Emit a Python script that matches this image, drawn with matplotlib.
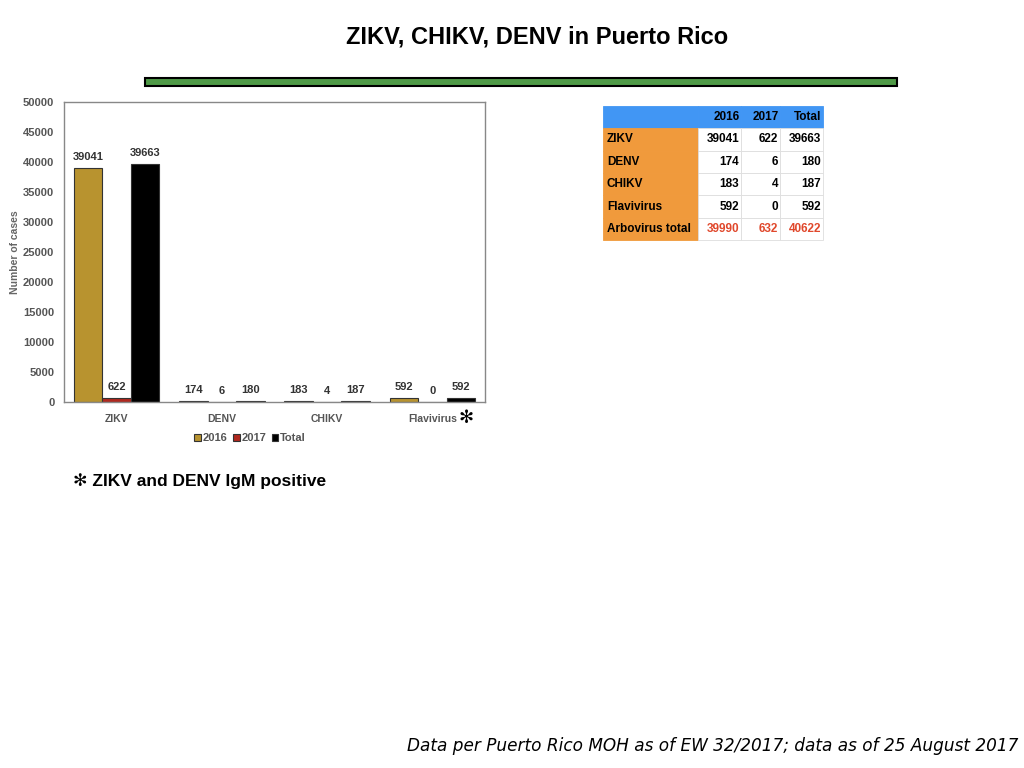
import matplotlib.pyplot as plt
from matplotlib.patches import Rectangle
import numpy as np

plt.rcParams['font.family'] = ['Liberation Sans', 'DejaVu Sans']

viruses = ['ZIKV', 'DENV', 'CHIKV', 'Flavivirus']
cases_2016 = [39041, 174, 183, 592]
cases_2017 = [622, 6, 4, 0]
cases_total = [39663, 180, 187, 592]

table_cols = ['2016', '2017', 'Total']
table_rows = ['ZIKV', 'DENV', 'CHIKV', 'Flavivirus', 'Arbovirus total']
table_vals = [
    ['39041', '622', '39663'],
    ['174', '6', '180'],
    ['183', '4', '187'],
    ['592', '0', '592'],
    ['39990', '632', '40622'],
]

series = [('2016', cases_2016, '#b8932f'),
          ('2017', cases_2017, '#b0281e'),
          ('Total', cases_total, '#000000')]

fig = plt.figure(figsize=(10.24, 7.68), dpi=100)

fig.text(0.524, 1 - 37 / 768, 'ZIKV, CHIKV, DENV in Puerto Rico', ha='center', va='center',
         fontsize=17, fontweight='bold')
fig.patches.append(Rectangle((145 / 1024, 1 - 86 / 768), 752 / 1024, 8 / 768,
                             transform=fig.transFigure, facecolor='#4f9a47',
                             edgecolor='black', linewidth=1.5))

ax = fig.add_axes([64 / 1024, 1 - 402 / 768, 421 / 1024, 300 / 768])
x = np.arange(len(viruses))
w = 0.27
grey = '#555555'
for i, (name, vals, col) in enumerate(series):
    pos = x + (i - 1) * w
    ax.bar(pos, vals, w, color=col, edgecolor='#333333', linewidth=0.8, label=name)
    for p, v in zip(pos, vals):
        ax.text(p, v + 1000, str(v), ha='center', va='bottom', fontsize=8,
                fontweight='bold', color='#333333')

ax.set_xlim(-0.5, 3.5)
ax.set_ylim(0, 50000)
ax.set_yticks(range(0, 50001, 5000))
ax.set_xticks(x)
ax.set_xticklabels(viruses)
ax.tick_params(axis='y', length=0, labelsize=8, labelcolor=grey, pad=7)
ax.tick_params(axis='x', length=0, labelsize=7.5, labelcolor=grey, pad=9)
for lab in ax.get_xticklabels() + ax.get_yticklabels():
    lab.set_fontweight('bold')
for s in ax.spines.values():
    s.set_color('#888888')
    s.set_linewidth(1)
ax.set_ylabel('Number of cases', fontsize=7.5, color='#666666', fontweight='bold')
ax.yaxis.set_label_coords(-0.104, 0.5)
ax.text(3.32, -0.052, '\u273b', transform=ax.get_xaxis_transform(), ha='center',
        va='center', fontsize=13, family='DejaVu Sans', color='black')

leg = ax.legend(loc='center', bbox_to_anchor=(0.442, -0.12), ncol=3, frameon=False,
                handlelength=0.6, handleheight=0.6, handletextpad=0.15,
                columnspacing=0.5, fontsize=8)
for t in leg.get_texts():
    t.set_color(grey)
    t.set_fontweight('bold')

# table
tax = fig.add_axes([603 / 1024, 1 - 240 / 768, 220 / 1024, 134 / 768])
tax.axis('off')
cells = [[''] + table_cols] + [[r] + v for r, v in zip(table_rows, table_vals)]
tbl = tax.table(cellText=cells, bbox=[0, 0, 1, 1],
                colWidths=[95 / 220, 43 / 220, 39 / 220, 43 / 220])
tbl.auto_set_font_size(False)
for (r, c), cell in tbl.get_celld().items():
    cell.set_edgecolor('#dddddd')
    cell.set_linewidth(0.6)
    cell.PAD = 0.04
    txt = cell.get_text()
    txt.set_fontsize(8.5)
    txt.set_fontweight('bold')
    if r == 0:
        cell.set_facecolor('#4196f4')
        cell.set_edgecolor('#4196f4')
        txt.set_ha('right')
    elif c == 0:
        cell.set_facecolor('#f09a3c')
        cell.set_edgecolor('#f09a3c')
        txt.set_ha('left')
    else:
        cell.set_facecolor('white')
        txt.set_ha('right')
    if r == len(cells) - 1 and c > 0:
        txt.set_color('#e0482c')

fig.text(0.071, 1 - 481 / 768, '\u273b ZIKV and DENV IgM positive', ha='left', va='center',
         fontsize=12.5, fontweight='bold', family=['Liberation Sans', 'DejaVu Sans'])

fig.text(1018 / 1024, 1 - 746 / 768, 'Data per Puerto Rico MOH as of EW 32/2017; data as of 25 August 2017',
         ha='right', va='center', fontsize=12.2, style='italic', family='DejaVu Sans')

fig.savefig('out.png', dpi=100)
